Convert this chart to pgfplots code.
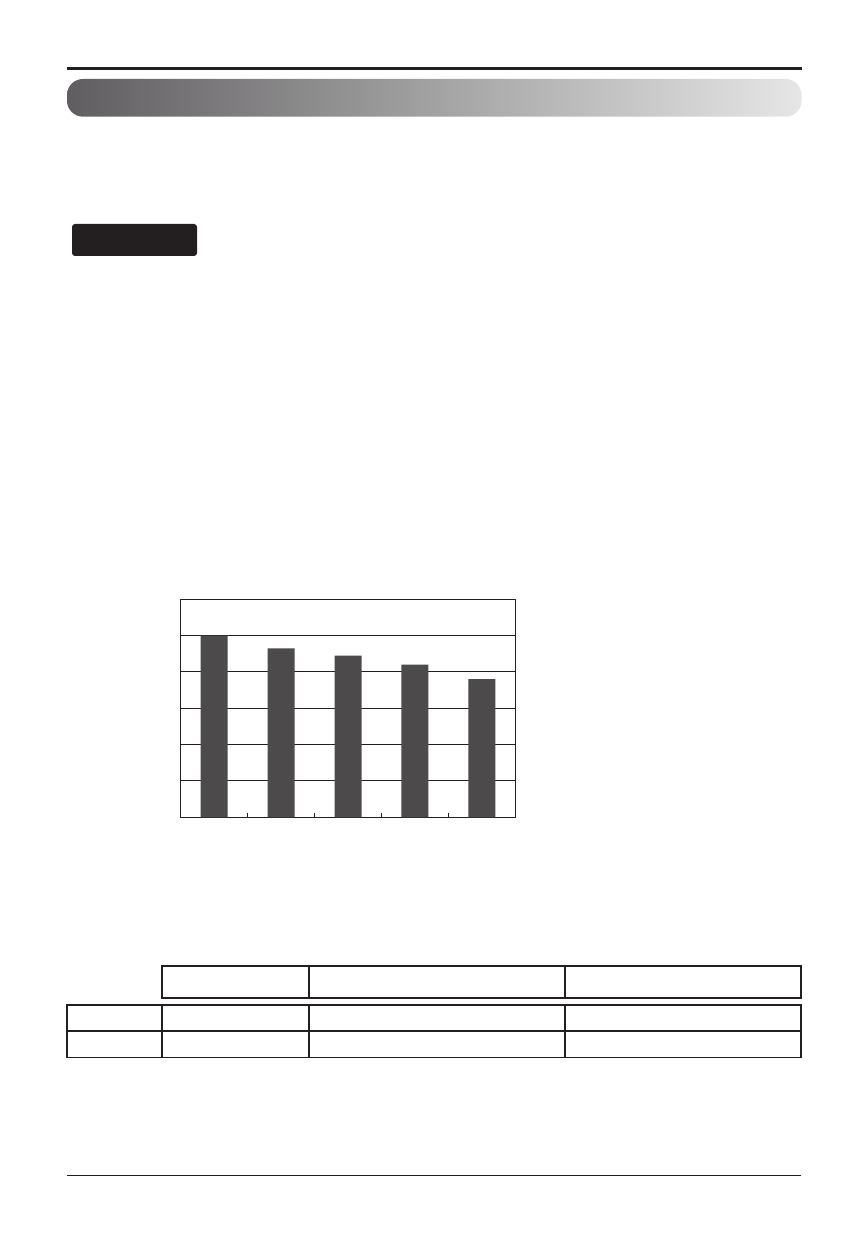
\documentclass[border=0pt]{standalone}
\usepackage{pgfplots}
\pgfplotsset{compat=1.18}
\usetikzlibrary{shadings}
\definecolor{ink}{RGB}{35,31,32}
\definecolor{barc}{RGB}{77,74,76}
\definecolor{gradL}{RGB}{96,94,96}
\definecolor{gradR}{RGB}{230,230,230}
\pgfplotstableread{
x y
0 100
1 93
2 89
3 84
4 76
}\bardata
\begin{document}
\begin{tikzpicture}[x=1pt,y=-1pt]
\useasboundingbox (0,0) rectangle (850,1246);
\fill[white] (0,0) rectangle (850,1246);
% header rule
\draw[ink, line width=3pt] (67,68.2) -- (802,68.2);
% gradient banner
\shade[left color=gradL, right color=gradR, rounded corners=16pt] (67,79) rectangle (801.5,116.7);
% dark label box
\fill[ink, rounded corners=3pt] (72,224) rectangle (197,256);
% chart
\begin{axis}[
  at={(180.7pt,-817.3pt)}, anchor=south west,
  scale only axis, width=334.6pt, height=218pt,
  xmin=-0.5, xmax=4.5, ymin=0, ymax=120,
  ytick={0,20,...,120}, yticklabels={},
  xtick={0.5,1.5,2.5,3.5}, xticklabels={},
  xtick pos=bottom, ytick pos=left,
  tick align=inside,
  major tick length=4.7pt,
  ytick style={draw=none},
  xtick style={ink, line width=1pt},
  ymajorgrids, grid style={ink, line width=1pt},
  axis line style={ink, line width=1pt},
]
\addplot[ybar, bar width=27pt, bar shift=0pt, fill=barc, draw=none] table[x=x,y=y] {\bardata};
\end{axis}
% table
\begin{scope}[ink, line width=1.3pt]
\draw (162,966) rectangle (801,998);
\draw (309,966) -- (309,998);
\draw (565,966) -- (565,998);
\draw (67,1005) rectangle (801,1057.3);
\draw (67,1031) -- (801,1031);
\draw (162,1005) -- (162,1057.3);
\draw (309,1005) -- (309,1057.3);
\draw (565,1005) -- (565,1057.3);
\end{scope}
% footer rule
\draw[ink, line width=1.2pt] (67,1175.3) -- (801,1175.3);
\end{tikzpicture}
\end{document}
